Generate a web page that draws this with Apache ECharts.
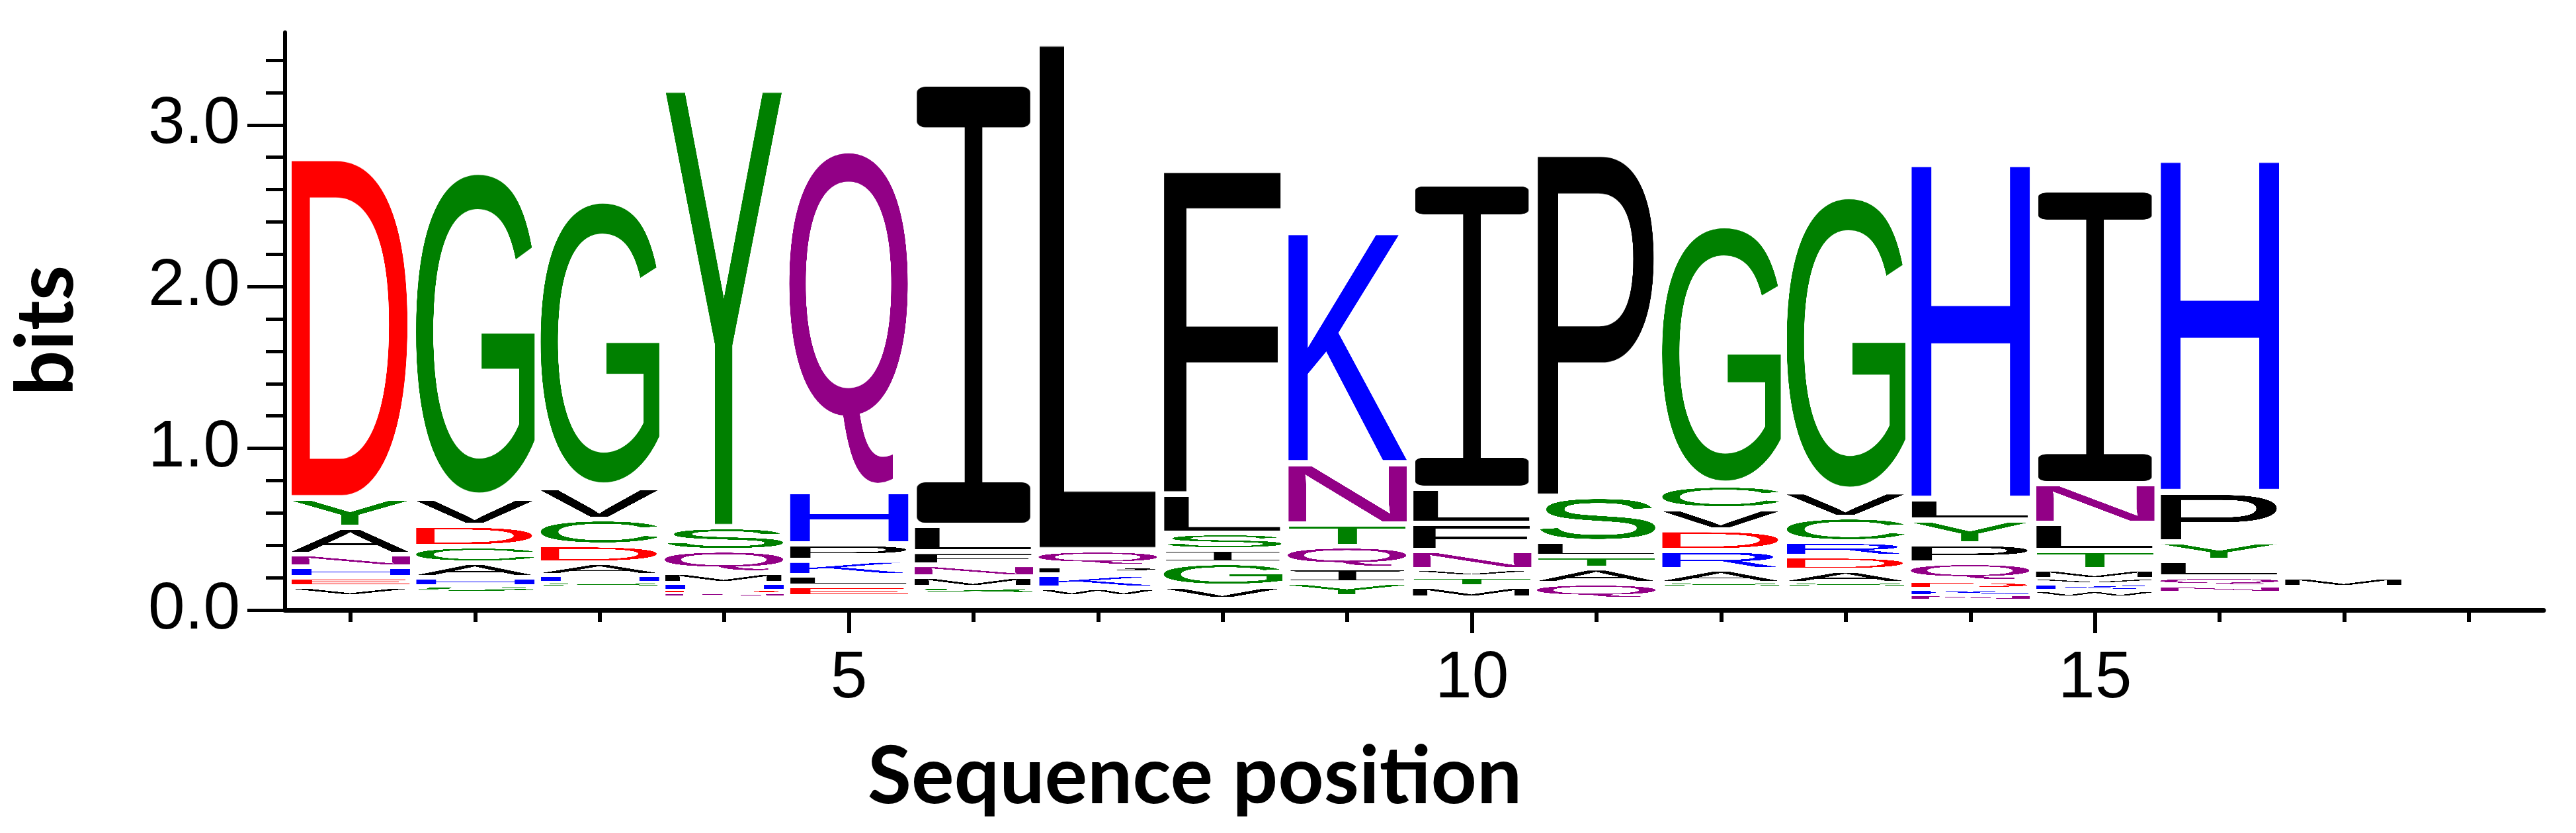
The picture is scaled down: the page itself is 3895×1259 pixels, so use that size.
<!DOCTYPE html>
<html>
<head>
<meta charset="utf-8">
<script src="https://cdn.jsdelivr.net/npm/echarts@6/dist/echarts.min.js"></script>
<style>
  html, body { margin: 0; background: #ffffff; }
  #logo { width: 3895px; height: 1259px; }
</style>
</head>
<body>
<div id="logo"></div>
<script>
// sequence positions on the x axis
const positions = [1, 2, 3, 4, 5, 6, 7, 8, 9, 10, 11, 12, 13, 14, 15, 16, 17, 18];
// bits taken up by the rare residues that are too thin to be seen, under each stack
const stackBase = [0.10, 0.12, 0.15, 0.09, 0.10, 0.11, 0.10, 0.08, 0.10, 0.09, 0.08, 0.15, 0.15, 0.07, 0.09, 0.12, 0.155, 0];
// residues of each stack, bottom to top
const stackLetters = ['VEHNAYD', 'SHACDVG', 'SHADCVG', 'NDHMQSY', 'ELKPHQ', 'SMNFLI', 'WKPQL', 'VGISLF', 'YIQTNK',
  'MTVNFLI', 'QATLSP', 'SARDVCG', 'SADRCVG', 'NKDQPYLH', 'WKVMTLNI', 'NQLYPH', 'M', ''];
// height in bits of each residue, same order
const stackBits = [
  [0.06, 0.055, 0.066, 0.078, 0.168, 0.18, 2.145],
  [0.04, 0.055, 0.091, 0.102, 0.131, 0.168, 2.029],
  [0.03, 0.048, 0.078, 0.111, 0.159, 0.196, 1.784],
  [0.02, 0.02, 0.05, 0.065, 0.138, 0.144, 2.762],
  [0.063, 0.065, 0.094, 0.102, 0.327, 2.115],
  [0.045, 0.065, 0.073, 0.082, 0.164, 2.725],
  [0.05, 0.085, 0.05, 0.098, 3.202],
  [0.082, 0.144, 0.082, 0.102, 0.241, 2.046],
  [0.083, 0.09, 0.135, 0.138, 0.379, 1.454],
  [0.068, 0.062, 0.045, 0.118, 0.168, 0.219, 1.878],
  [0.099, 0.094, 0.074, 0.09, 0.279, 2.163],
  [0.029, 0.086, 0.118, 0.128, 0.13, 0.144, 1.617],
  [0.029, 0.081, 0.087, 0.09, 0.151, 0.157, 1.839],
  [0.03, 0.042, 0.049, 0.115, 0.118, 0.148, 0.131, 2.112],
  [0.04, 0.04, 0.034, 0.061, 0.118, 0.168, 0.247, 1.811],
  [0.04, 0.06, 0.102, 0.115, 0.308, 2.096],
  [0.063],
  []
];
const yTickValues = [0, 1, 2, 3];
const xMajorTicks = [5, 10, 15];

const residueColor = {
  G: '#008000', S: '#008000', T: '#008000', Y: '#008000', C: '#008000',
  N: '#920086', Q: '#920086',
  K: '#0000ff', R: '#0000ff', H: '#0000ff',
  D: '#ff0000', E: '#ff0000'
};

// each letter is drawn once on its own canvas, cut to its ink, then stretched into its box
const glyphCache = {};
function glyph(ch) {
  if (glyphCache[ch]) return glyphCache[ch];
  const c = document.createElement('canvas');
  let ctx;
  if (ch === 'I') {
    // the logo's I is a thin stem between two full-width bars
    c.width = 190;
    c.height = 1000;
    ctx = c.getContext('2d');
    ctx.fillStyle = '#000000';
    ctx.beginPath();
    ctx.roundRect(5, 0, 180, 93, 14);
    ctx.roundRect(5, 907, 180, 93, 14);
    ctx.fill();
    ctx.fillRect(81, 60, 28, 880);
  } else {
    const font = '900px "Liberation Sans"';
    ctx = c.getContext('2d');
    ctx.font = font;
    const m = ctx.measureText(ch);
    c.width = Math.ceil(m.actualBoundingBoxLeft + m.actualBoundingBoxRight) + 2;
    c.height = Math.ceil(m.actualBoundingBoxAscent + m.actualBoundingBoxDescent) + 2;
    ctx = c.getContext('2d');
    ctx.font = font;
    ctx.fillStyle = residueColor[ch] || '#000000';
    ctx.textBaseline = 'alphabetic';
    ctx.fillText(ch, m.actualBoundingBoxLeft + 1, m.actualBoundingBoxAscent + 1);
  }
  glyphCache[ch] = c;
  return c;
}

const letterItems = [];
positions.forEach((p, i) => {
  let y = stackBase[i];
  stackBits[i].forEach((h, j) => {
    const drawn = h >= 0.056 ? h - 0.028 : h * 0.5;
    letterItems.push({ ch: stackLetters[i][j], value: [p, y, drawn] });
    y += h;
  });
});

function renderLetter(params, api) {
  const item = letterItems[params.dataIndex];
  const lo = api.coord([api.value(0) - 0.48, api.value(1)]);
  const hi = api.coord([api.value(0) + 0.48, api.value(1) + api.value(2)]);
  return {
    type: 'image',
    style: {
      image: glyph(item.ch),
      x: lo[0],
      y: hi[1],
      width: hi[0] - lo[0],
      height: lo[1] - hi[1]
    }
  };
}

const chart = echarts.init(document.getElementById('logo'));

const labelFont = { fontFamily: '"Liberation Sans", Arial, sans-serif', fontSize: 100, color: '#000000' };
const nameFont = { fontFamily: 'Lato, sans-serif', fontWeight: 'bold', fontSize: 121, lineHeight: 121, color: '#000000' };

const option = {
  animation: false,
  backgroundColor: '#ffffff',
  grid: { left: 431, right: 49, top: 49, bottom: 337, outerBoundsMode: 'none' },
  xAxis: [
    {
      type: 'value',
      min: 0.475,
      max: 18.6,
      axisLine: { show: true, lineStyle: { color: '#000000', width: 7 } },
      axisTick: { show: true, customValues: positions, length: 18, lineStyle: { color: '#000000', width: 6 } },
      axisLabel: { show: false },
      splitLine: { show: false }
    },
    {
      type: 'value',
      min: 0.475,
      max: 18.6,
      position: 'bottom',
      axisLine: { show: false },
      axisTick: { show: true, customValues: xMajorTicks, length: 35, lineStyle: { color: '#000000', width: 6 } },
      axisLabel: Object.assign({ customValues: xMajorTicks, margin: 54 }, labelFont),
      splitLine: { show: false },
      name: 'Sequence position',
      nameLocation: 'middle',
      nameGap: 192,
      nameTextStyle: Object.assign({ padding: [0, 664, 0, 0] }, nameFont)
    }
  ],
  yAxis: {
    type: 'value',
    min: 0,
    max: 3.572,
    interval: 1,
    axisLine: { show: true, lineStyle: { color: '#000000', width: 6 } },
    axisTick: { show: true, customValues: yTickValues, length: 57, lineStyle: { color: '#000000', width: 5 } },
    minorTick: { show: true, splitNumber: 5, length: 29, lineStyle: { color: '#000000', width: 5 } },
    axisLabel: Object.assign({ customValues: yTickValues, margin: 68, formatter: v => v.toFixed(1) }, labelFont),
    splitLine: { show: false },
    minorSplitLine: { show: false },
    name: 'bits',
    nameLocation: 'middle',
    nameGap: 300,
    nameTextStyle: Object.assign({ padding: [0, 28, 0, 0] }, nameFont)
  },
  series: [
    {
      type: 'custom',
      xAxisIndex: 0,
      renderItem: renderLetter,
      data: letterItems.map(d => d.value),
      silent: true
    }
  ]
};

chart.setOption(option);
</script>
</body>
</html>
